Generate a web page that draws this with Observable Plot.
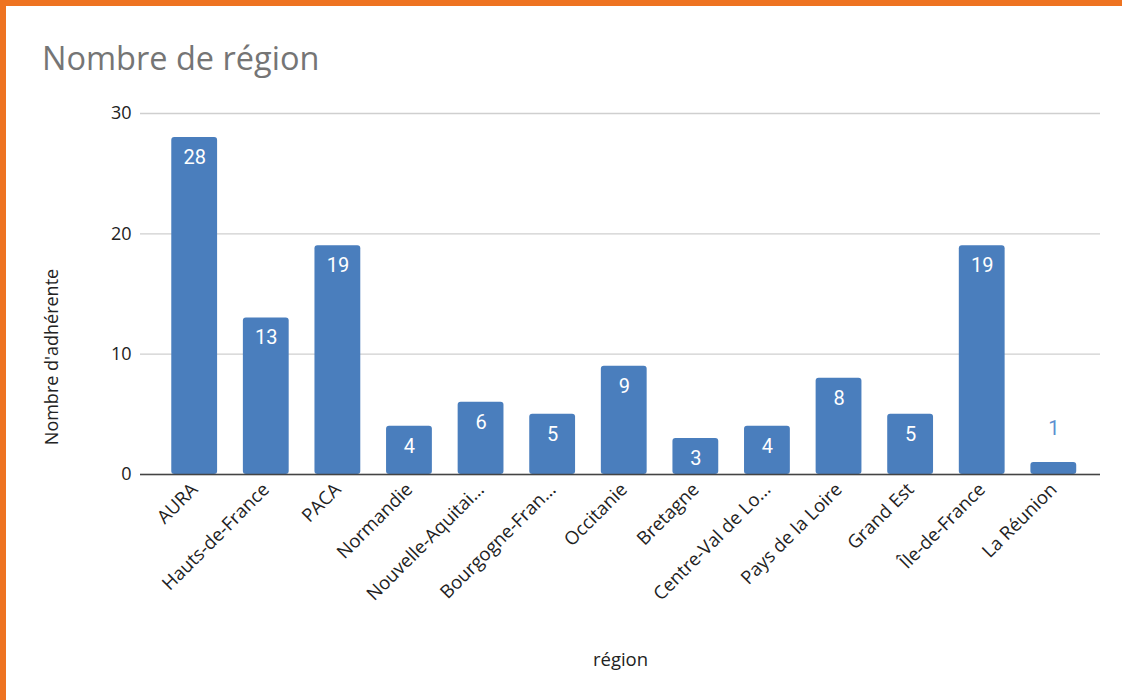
<!DOCTYPE html>
<html>
<head>
<meta charset="utf-8">
<script src="https://cdn.jsdelivr.net/npm/d3@7"></script>
<script src="https://cdn.jsdelivr.net/npm/@observablehq/plot@0.6"></script>
<style>
  html, body { margin: 0; padding: 0; background: #fff; }
  #wrap {
    width: 1122px; height: 700px; box-sizing: border-box;
    border-top: 6px solid #ee7321; border-left: 6px solid #ee7321;
    overflow: hidden;
  }
  #title {
    height: 84px; box-sizing: border-box;
    padding: 33px 0 0 36px;
    font-family: "Open Sans", sans-serif; font-size: 32.5px; color: #757575;
    line-height: 38px;
  }
  svg { display: block; }
</style>
</head>
<body>
<div id="wrap">
  <div id="title">Nombre de région</div>
  <div id="chart"></div>
</div>
<script>
const regions = ["AURA", "Hauts-de-France", "PACA", "Normandie", "Nouvelle-Aquitai...", "Bourgogne-Fran...", "Occitanie", "Bretagne", "Centre-Val de Lo...", "Pays de la Loire", "Grand Est", "Île-de-France", "La Réunion"];
const counts = [28, 13, 19, 4, 6, 5, 9, 3, 4, 8, 5, 19, 1];
const yTicks = [0, 10, 20, 30];

const data = regions.map((r, i) => ({region: r, count: counts[i]}));
const blue = "#4a7ebd";

const chart = Plot.plot({
  width: 1116,
  height: 610,
  marginTop: 23,
  marginBottom: 226,
  marginLeft: 134,
  marginRight: 22,
  style: {fontFamily: "'Open Sans', sans-serif", fontSize: "18px", color: "#222", background: "#fff"},
  x: {domain: regions, padding: 0.36, range: [139.5, 1096], round: false},
  y: {domain: [0, 30]},
  marks: [
    Plot.gridY(yTicks, {stroke: "#cfcfcf", strokeOpacity: 1, strokeWidth: 1.3}),
    Plot.axisY(yTicks, {tickSize: 0, tickPadding: 9, fontSize: 18, label: null}),
    Plot.text(["Nombre d'adhérente"], {frameAnchor: "left", rotate: -90, textAnchor: "middle", dx: -88, dy: 63, fontSize: 18, fill: "#222"}),
    Plot.axisX({tickSize: 0, tickPadding: 12, tickRotate: -45, fontSize: 18.5, label: "région", labelAnchor: "center", labelArrow: "none", labelOffset: 191}),
    Plot.barY(data, {x: "region", y: "count", fill: blue, rx: 3}),
    Plot.ruleY([0], {stroke: "#444", strokeWidth: 1.6}),
    Plot.text(data.filter(d => d.count >= 2), {x: "region", y: "count", text: d => String(d.count), fill: "#fff", dy: 20, fontSize: 20, fontWeight: 400, fontFamily: "Roboto, sans-serif"}),
    Plot.text(data.filter(d => d.count < 2), {x: "region", y: "count", text: d => String(d.count), fill: "#5d8fd0", dy: -34, fontSize: 20, fontWeight: 400, fontFamily: "Roboto, sans-serif"})
  ]
});
document.getElementById("chart").appendChild(chart);
</script>
</body>
</html>
